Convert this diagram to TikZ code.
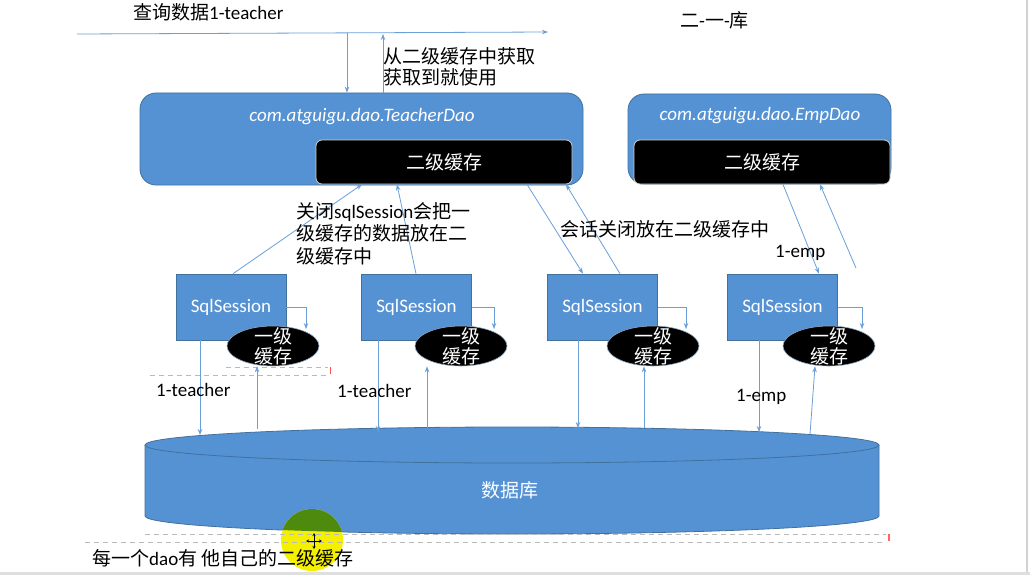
\documentclass[tikz,border=0pt]{standalone}
\usepackage{fontspec}
\setmainfont{Carlito}
\newfontfamily\cjk{Noto Sans CJK SC}
\usetikzlibrary{arrows.meta,calc,shapes.geometric}
\newcommand\zh[1]{{\cjk #1}}
\definecolor{bfill}{HTML}{5592D4}
\definecolor{bline}{HTML}{41719C}
\definecolor{aline}{HTML}{6A9FD8}
\definecolor{hlgreen}{HTML}{4E8A0E}
\definecolor{hlyellow}{HTML}{F4F000}
\begin{document}
\begin{tikzpicture}[x=1pt,y=-1pt,
  every node/.style={font=\fontsize{19}{22}\selectfont},
  txt/.style={inner sep=0pt, anchor=west, align=left},
  dao/.style={fill=bfill, draw=bline, line width=0.8pt, rounded corners=16pt, inner sep=0pt},
  ltwo/.style={fill=black, draw=gray!35, line width=0.8pt, rounded corners=6pt, text=white, inner sep=0pt, minimum width=256pt, minimum height=44pt, font=\fontsize{19}{22}\selectfont\cjk},
  sess/.style={fill=bfill, draw=bline, line width=0.6pt, text=white, minimum width=110pt, minimum height=66pt, inner sep=0pt},
  lone/.style={ellipse, fill=black, draw=bline!60, line width=0.6pt, minimum width=92pt, minimum height=40pt, inner sep=0pt},
  lonet/.style={text=white, inner sep=0pt, align=center, font=\fontsize{19}{20}\selectfont\cjk},
  arr/.style={draw=aline, line width=0.8pt, -{Stealth[length=6pt,width=4.5pt]}},
  art/.style={draw=gray!55, dash pattern=on 5pt off 4pt, line width=0.6pt}
]
\useasboundingbox (0,0) rectangle (1030,575);
\fill[white] (0,0) rectangle (1030,575);
\draw[gray!35, line width=1.5pt] (1027,0) -- (1027,573);
\fill[gray!25] (0,572) rectangle (1030,575);

% database
\path[fill=bfill, draw=bline, line width=0.8pt] (145,445) -- (145,516)
  arc[start angle=180, end angle=0, x radius=367, y radius=18] -- (879,445);
\filldraw[fill=bfill, draw=bline, line width=0.8pt] (512,445) ellipse[x radius=367, y radius=18];
\node[text=white, font=\fontsize{19}{22}\selectfont\cjk] (dbt) at (510,490) {数据库};

% cursor highlight
\fill[hlyellow] (312,540) circle[radius=31];
\begin{scope}
  \clip (145,445) -- (145,516) arc[start angle=180, end angle=0, x radius=367, y radius=18] -- (879,445) -- cycle;
  \fill[hlgreen] (312,540) circle[radius=31];
\end{scope}

% selection artifacts
\draw[art] (226,367) -- (328,367);
\draw[art] (150,375) -- (328,375);
\draw[red!70, line width=1pt] (330,367) -- (330,374);
\draw[art] (145,534) -- (886,534);
\draw[art] (85,542) -- (886,542);
\draw[red!60, line width=1.2pt] (889,534) -- (889,541);

% top texts and arrows
\node[txt] (q) at (133,12) {\zh{查询数据}1-teacher};
\node[txt] (lib) at (680,20) {\zh{二}-\zh{一}-\zh{库}};
\coordinate (qs) at (77,34);
\coordinate (qe) at (548,32);
\draw[arr] (qs) -- (qe);

% dao boxes
\node[dao, minimum width=443pt, minimum height=92pt] (tdao) at (361.5,139) {};
\node[text=white, font=\fontsize{19}{22}\selectfont\itshape, inner sep=0pt] (tdaot) at (362,117) {com.atguigu.dao.TeacherDao};
\node[ltwo] (l2t) at (444,162) {二级缓存};
\node[dao, minimum width=263pt, minimum height=90pt] (edao) at (759.5,139) {};
\node[text=white, font=\fontsize{19}{22}\selectfont\itshape, inner sep=0pt] (edaot) at (760,116) {com.atguigu.dao.EmpDao};
\node[ltwo] (l2e) at (762,162) {二级缓存};

\draw[arr] (347,33) -- (tdao.north -| 347,0);
\draw[arr] (tdao.north -| 383,0) -- (383,34);
\node[txt, font=\fontsize{19}{21}\selectfont\cjk] (get) at (383,67) {从二级缓存中获取\\获取到就使用};

% sessions
\node[sess] (s1) at (231,307) {SqlSession};
\node[sess] (s2) at (416.5,307) {SqlSession};
\node[sess] (s3) at (602.5,307) {SqlSession};
\node[sess] (s4) at (782.5,307) {SqlSession};

\foreach \i/\x in {1/273,2/461,3/653,4/829}{
  \draw[arr] (s\i.east) -| (\x+33,329);
}
\node[lone] (e1) at (273,346) {};
\node[lone] (e2) at (461,346) {};
\node[lone] (e3) at (653,346) {};
\node[lone] (e4) at (829,346) {};
\foreach \i in {1,2,3,4}{
  \node[lonet] (e\i t) at (e\i) {一级\\缓存};
}

% session <-> database
\draw[arr] (s1.south -| 200,0) -- (200,435);
\draw[arr] (257,429) -- (e1.south -| 257,0);
\draw[arr] (s2.south -| 378,0) -- (378,432);
\draw[arr] (427,428) -- (e2.south -| 427,0);
\draw[arr] (s3.south -| 578,0) -- (578,428);
\draw[arr] (644,428) -- (e3.south -| 644,0);
\draw[arr] (s4.south -| 759,0) -- (759,432);
\draw[arr] (810,434) -- (e4.south -| 815,0);

% session <-> second level cache
\draw[arr] (s1.north -| 233,0) -- (l2t.south -| 362,0);
\draw[arr] (s2.north -| 416,0) -- (l2t.south -| 397,0);
\draw[arr] (l2t.south -| 527,0) -- (s3.north -| 583,0);
\draw[arr] (s3.north -| 620,0) -- (l2t.south -| 566,0);
\draw[arr] (l2e.south -| 783,0) -- (s4.north -| 819,0);
\coordinate (ef) at (856,268);
\draw[arr] (ef) -- (l2e.south -| 820,0);

% labels
\node[txt, anchor=north west, font=\fontsize{19}{22.5}\selectfont] (close) at (296,202) {\zh{关闭}sqlSession\zh{会把一}\\\zh{级缓存的数据放在二}\\\zh{级缓存中}};
\node[txt, font=\fontsize{19}{22}\selectfont\cjk] (sess2) at (560,229) {会话关闭放在二级缓存中};
\node[txt] (emp1) at (775,253) {1-emp};
\node[txt] (t1) at (156,390) {1-teacher};
\node[txt] (t2) at (337,391) {1-teacher};
\node[txt] (emp2) at (736,397) {1-emp};

% cursor
\foreach \dx/\dy in {0/-8,0/8,-8/0,8/0}{
  \draw[black, line width=0.8pt, -{Stealth[length=3pt,width=3pt]}] (314,541) -- ++(\dx,\dy);
}
\node[txt] (foot) at (92,558) {\zh{每一个}dao\zh{有 他自己的二级缓存}};
\end{tikzpicture}
\end{document}
